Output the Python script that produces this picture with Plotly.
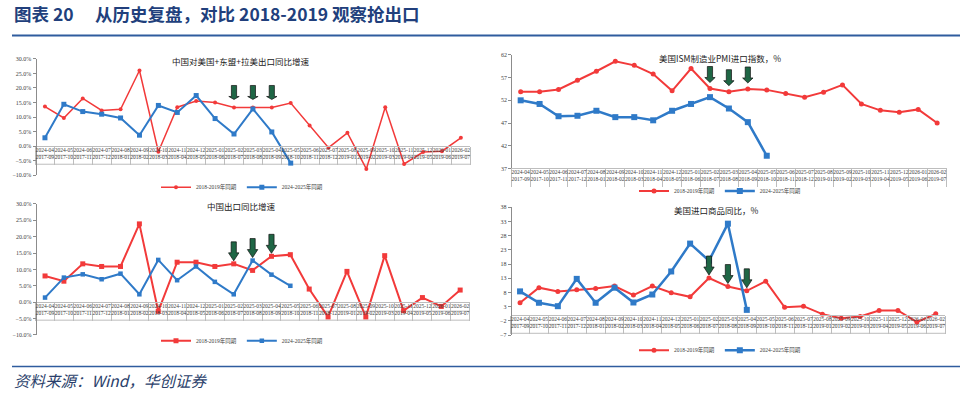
import plotly.graph_objects as go

W, H = 960, 397

# ---------------- data ----------------
cats_2024 = ["2024-04", "2024-05", "2024-06", "2024-07", "2024-08", "2024-09", "2024-10",
             "2024-11", "2024-12", "2025-01", "2025-02", "2025-03", "2025-04", "2025-05",
             "2025-06", "2025-07", "2025-08", "2025-09", "2025-10", "2025-11", "2025-12",
             "2026-01", "2026-02"]
cats_2017 = ["2017-09", "2017-10", "2017-11", "2017-12", "2018-01", "2018-02", "2018-03",
             "2018-04", "2018-05", "2018-06", "2018-07", "2018-08", "2018-09", "2018-10",
             "2018-11", "2018-12", "2019-01", "2019-02", "2019-03", "2019-04", "2019-05",
             "2019-06", "2019-07"]

# 中国对美国+东盟+拉美出口同比增速 (%)
exp_ual_1819 = [13.6, 9.7, 16.4, 12.3, 12.7, 26.0, -1.9, 13.4, 15.5, 15.0, 13.3, 13.3,
                13.3, 14.8, 7.1, -0.5, 4.6, -7.8, 13.4, -6.1, -2.0, -1.7, 2.9]
exp_ual_2425 = [2.9, 14.4, 11.9, 11.0, 9.7, 3.8, 14.0, 11.6, 17.4, 9.5, 4.2, 12.8, 4.9, -5.8]

# 美国ISM制造业PMI进口指数
pmi_imp_1819 = [53.9, 53.9, 54.4, 56.4, 58.4, 60.6, 59.7, 57.8, 54.1, 59.0, 54.6, 53.9,
                54.5, 54.3, 53.5, 52.7, 53.8, 55.4, 51.2, 49.8, 49.4, 50.0, 47.0]
pmi_imp_2425 = [52.0, 51.2, 48.5, 48.6, 49.7, 48.3, 48.3, 47.6, 49.7, 51.2, 52.7, 50.2, 47.2, 39.8]

# 中国出口同比增速 (%)
exp_cn_1819 = [8.0, 6.4, 11.7, 10.9, 10.9, 23.9, -2.8, 12.2, 12.2, 10.9, 11.7, 9.7,
               14.0, 14.5, 4.0, -4.5, 9.4, -4.5, 14.2, -2.6, 1.4, -1.3, 3.7]
exp_cn_2425 = [1.4, 7.5, 8.5, 7.0, 8.7, 2.4, 12.9, 6.7, 10.9, 6.2, 2.4, 12.7, 8.4, 5.0]

# 美国进口商品同比 (%)
us_imp_1819 = [4.4, 9.7, 8.4, 9.0, 9.4, 10.3, 7.1, 10.3, 7.9, 6.5, 13.1, 10.1,
               8.6, 12.0, 2.8, 3.2, 0.4, -1.0, -0.4, 1.7, 1.7, -2.4, 0.5]
us_imp_2425 = [8.4, 4.4, 3.2, 12.8, 4.4, 9.7, 4.5, 7.3, 15.4, 25.2, 19.2, 32.2, 1.9]

arrow_idx = [10, 11, 12]
series_names = ["2018-2019年同期", "2024-2025年同期"]
page_title = "<b>图表 20 　从历史复盘，对比 2018-2019 观察抢出口</b>"
source_text = "<i>资料来源：Wind，华创证券</i>"

# ---------------- styling ----------------
RED = "#F23A3A"
BLUE = "#2F7AC8"
GRID = "#BDBDBD"
AXIS = "#8C8C8C"
GREEN = "#1F6645"
NAVY = "#213F7C"
SERIF = "Liberation Serif, Noto Sans CJK SC"
CJK = "Noto Sans CJK SC"

fx = lambda px: px / W
fy = lambda py: 1 - py / H

panels = [
    dict(title="中国对美国+东盟+拉美出口同比增速", red=exp_ual_1819, blue=exp_ual_2425,
         xdom=(35.5, 470.3), ydom=(56.7, 175.0), yr=(-10, 30), dtick=5, pct=True, cross=0,
         title_xy=(240, 59), leg_xy=(242, 187), rw=1.5, rsym="circle", rsz=4,
         bw=2.0, bsym="square", bsz=5, gap=8, arrow_on_max=True),
    dict(title="美国ISM制造业PMI进口指数，%", red=pmi_imp_1819, blue=pmi_imp_2425,
         xdom=(511.2, 946.6), ydom=(52.7, 168.0), yr=(37, 62), dtick=5, pct=False, cross=37,
         title_xy=(720, 55.5), leg_xy=(720, 191), rw=2.0, rsym="circle", rsz=5,
         bw=2.5, bsym="square", bsz=6, gap=6, arrow_on_max=False),
    dict(title="中国出口同比增速", red=exp_cn_1819, blue=exp_cn_2425,
         xdom=(35.6, 469.6), ydom=(204.0, 337.0), yr=(-10, 30), dtick=5, pct=True, cross=0,
         title_xy=(241, 206), leg_xy=(242, 343), rw=2.0, rsym="square", rsz=5,
         bw=2.0, bsym="square", bsz=4.5, gap=3, arrow_on_max=True),
    dict(title="美国进口商品同比，%", red=us_imp_1819, blue=us_imp_2425,
         xdom=(510.6, 945.2), ydom=(207.3, 337.3), yr=(-7, 38), dtick=5, pct=False, cross=0,
         title_xy=(716, 210), leg_xy=(720, 352.5), rw=2.0, rsym="circle", rsz=5,
         bw=2.5, bsym="square", bsz=6, gap=3, arrow_on_max=False),
]

ticktext = [f"{a}<br>{b}" for a, b in zip(cats_2024, cats_2017)]

fig = go.Figure()
layout = dict(width=W, height=H, autosize=False, margin=dict(l=0, r=0, t=0, b=0),
              paper_bgcolor="white", plot_bgcolor="rgba(0,0,0,0)", showlegend=True)
shapes = []
annotations = []

arrow_path = "M -2.6,22 L 2.6,22 L 2.6,11 L 5.2,11 L 0,GAP L -5.2,11 L -2.6,11 Z"

for k, p in enumerate(panels, start=1):
    sfx = "" if k == 1 else str(k)
    xa, ya = f"x{sfx}", f"y{sfx}"
    leg = f"legend{sfx}"
    y0f, y1f = fy(p["ydom"][1]), fy(p["ydom"][0])
    lo, hi = p["yr"]
    pos = y0f + (p["cross"] - lo) / (hi - lo) * (y1f - y0f)

    fig.add_trace(go.Scatter(
        x=cats_2024[:len(p["red"])], y=p["red"], name=series_names[0],
        mode="lines+markers", line=dict(color=RED, width=p["rw"]),
        marker=dict(color=RED, symbol=p["rsym"], size=p["rsz"]),
        xaxis=xa, yaxis=ya, legend=leg, cliponaxis=False))
    fig.add_trace(go.Scatter(
        x=cats_2024[:len(p["blue"])], y=p["blue"], name=series_names[1],
        mode="lines+markers", line=dict(color=BLUE, width=p["bw"]),
        marker=dict(color=BLUE, symbol=p["bsym"], size=p["bsz"]),
        xaxis=xa, yaxis=ya, legend=leg, cliponaxis=False))

    layout[f"xaxis{sfx}"] = dict(
        domain=[fx(p["xdom"][0]), fx(p["xdom"][1])], anchor="free", position=pos,
        type="category", categoryorder="array", categoryarray=cats_2024,
        range=[-0.5, len(cats_2024) - 0.5], tickmode="array", tickvals=cats_2024,
        ticktext=ticktext, ticks="outside", tickson="boundaries", ticklen=18,
        tickcolor=GRID, tickwidth=1, showline=True, linecolor=GRID, linewidth=1,
        showgrid=False, zeroline=False, tickangle=0, ticklabelstandoff=-2,
        tickfont=dict(family=SERIF, size=5.5, color="#404040"), fixedrange=True)
    layout[f"yaxis{sfx}"] = dict(
        domain=[y0f, y1f], anchor="free", position=fx(p["xdom"][0]), range=[lo, hi],
        dtick=p["dtick"], tick0=lo,
        ticks="outside", ticklen=3, tickcolor=AXIS, showline=True, linecolor=AXIS,
        linewidth=1, showgrid=False, zeroline=False,
        ticksuffix="%" if p["pct"] else "", tickformat=".1f" if p["pct"] else "d",
        tickfont=dict(family=SERIF, size=6, color="#404040"), fixedrange=True)

    layout[leg] = dict(orientation="h", x=fx(p["leg_xy"][0]), y=fy(p["leg_xy"][1]),
                       xanchor="center", yanchor="middle", bgcolor="rgba(0,0,0,0)",
                       font=dict(family=SERIF, size=5.5, color="#404040"),
                       itemwidth=30, tracegroupgap=0)

    # table-like category box (row separator and bottom line)
    for off in (-9, -18):
        shapes.append(dict(type="line", xref=f"{xa} domain", x0=0, x1=1, yref=ya,
                           ysizemode="pixel", yanchor=p["cross"], y0=off, y1=off,
                           line=dict(color=GRID, width=1), layer="below"))
    # green arrows
    for i in arrow_idx:
        anchor = p["red"][i]
        if p["arrow_on_max"] and i < len(p["blue"]):
            anchor = max(anchor, p["blue"][i])
        shapes.append(dict(type="path", xref=xa, yref=ya, xsizemode="pixel",
                           ysizemode="pixel", xanchor=i, yanchor=anchor,
                           path=arrow_path.replace("GAP", str(p["gap"])),
                           fillcolor=GREEN, line=dict(color="#111111", width=0.7)))
    annotations.append(dict(text=p["title"], xref="paper", yref="paper",
                            x=fx(p["title_xy"][0]), y=fy(p["title_xy"][1]),
                            xanchor="center", yanchor="middle", showarrow=False,
                            font=dict(family=CJK, size=8.5, color="#222222")))

# page decorations
shapes.append(dict(type="line", xref="paper", yref="paper", x0=fx(12), x1=1,
                   y0=fy(33), y1=fy(33), line=dict(color="#2F5C9E", width=2)))
shapes.append(dict(type="line", xref="paper", yref="paper", x0=fx(12), x1=1,
                   y0=fy(369), y1=fy(369), line=dict(color="#2F5C9E", width=1.5)))
annotations.append(dict(text=page_title, xref="paper", yref="paper", x=fx(12), y=fy(11),
                        xanchor="left", yanchor="middle", showarrow=False,
                        font=dict(family=CJK, size=17.5, color=NAVY)))
annotations.append(dict(text=source_text, xref="paper", yref="paper", x=fx(12), y=fy(383),
                        xanchor="left", yanchor="middle", showarrow=False,
                        font=dict(family=CJK, size=15.5, color="#2B3F6B")))

layout["shapes"] = shapes
layout["annotations"] = annotations
fig.update_layout(**layout)
fig.write_html("out.html", config={"displayModeBar": False},
               post_script="document.body.style.margin='0px';")
